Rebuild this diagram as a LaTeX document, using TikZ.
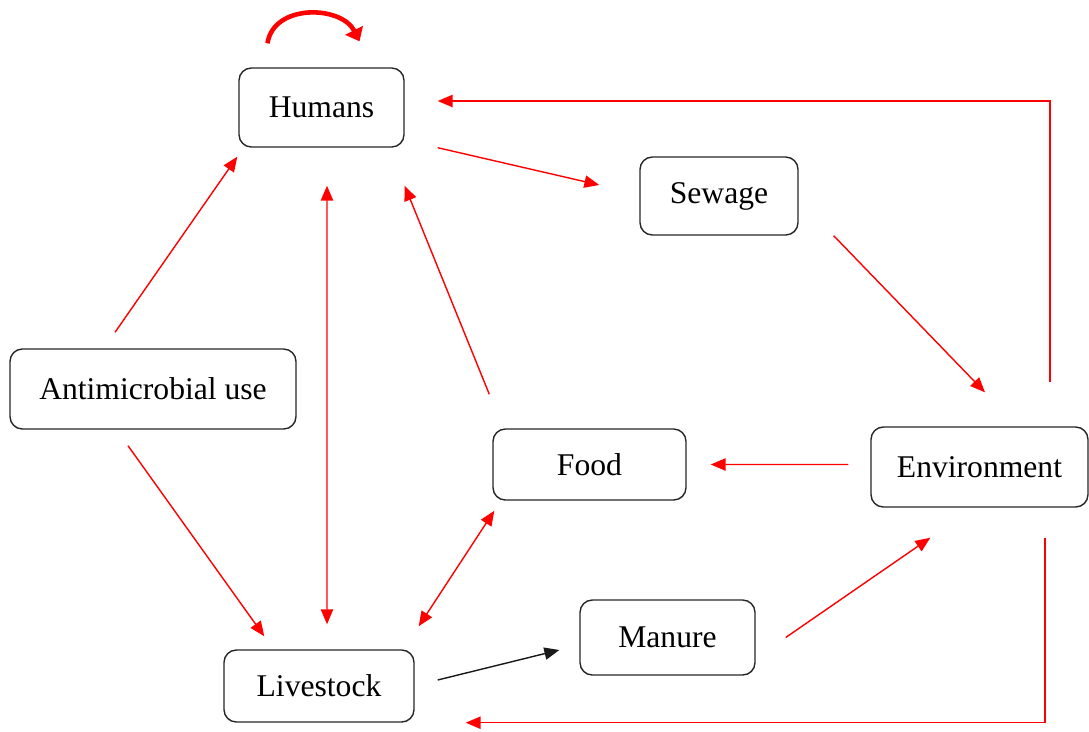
\documentclass[tikz,border=0pt]{standalone}
\usepackage{fontspec}
\setmainfont{Liberation Serif}
\usetikzlibrary{arrows.meta,calc}
\begin{document}
\begin{tikzpicture}[x=0.02cm,y=-0.02cm,
  box/.style={draw=black!85,line width=0.8pt,rounded corners=7pt,inner sep=0pt,
    font=\fontsize{18}{22}\selectfont},
  link/.style={draw=red,line width=0.8pt,-{Triangle[length=8.5pt,width=7pt]}},
  twoway/.style={draw=red,line width=0.8pt,{Triangle[length=8.5pt,width=7pt]}-{Triangle[length=8.5pt,width=7pt]}},
  blacklink/.style={draw=black!90,line width=0.8pt,-{Triangle[length=8.5pt,width=7pt]}}]
\useasboundingbox (0,0) rectangle (1089,731);

% boxes
\node[box,minimum width=3.3cm,minimum height=1.58cm] (hum) at (321.5,107.5) {Humans};
\node[box,minimum width=3.16cm,minimum height=1.56cm] (sew) at (719,196) {Sewage};
\node[box,minimum width=5.72cm,minimum height=1.6cm] (amu) at (153,389) {Antimicrobial use};
\node[box,minimum width=3.86cm,minimum height=1.42cm] (food) at (589.5,464.5) {Food};
\node[box,minimum width=4.34cm,minimum height=1.6cm] (env) at (979.5,467) {Environment};
\node[box,minimum width=3.5cm,minimum height=1.5cm] (man) at (667.5,637.5) {Manure};
\node[box,minimum width=3.8cm,minimum height=1.44cm] (liv) at (319,686) {Livestock};

% connectors
\draw[link] ($(amu.north)+(-38,-16)$) -- ($(hum.south west)+(-1,9)$);
\draw[link] ($(amu.south)+(-25,16)$) -- ($(liv.north west)+(41,-13)$);
\draw[twoway] ($(hum.south)+(5.5,38)$) -- ($(liv.north)+(8,-25)$);
\draw[link] ($(food.north west)+(-3,-34)$) -- ($(hum.south east)+(0,38)$);
\draw[twoway] ($(food.south west)+(2,10)$) -- ($(liv.north east)+(4,-23)$);
\draw[link] ($(hum.south east)+(33,0)$) -- ($(sew.west)+(-40,-11)$);
\draw[link] ($(sew.south east)+(35,0)$) -- ($(env.north)+(5.5,-34)$);
\draw[link] ($(env.west)+(-22,-2.5)$) -- ($(food.east)+(24,0)$);
\draw[link] ($(env.north)+(70.5,-44)$) |- ($(hum.east)+(33,-6.5)$);
\draw[link] ($(env.south)+(65.5,30)$) |- ($(liv.south east)+(51,0)$);
\draw[link] ($(man.east)+(30,0)$) -- ($(env.south west)+(60,30)$);
\draw[blacklink] ($(liv.east)+(23,-6)$) -- ($(man.west)+(-20,12.5)$);

% self-loop above Humans
\draw[red,line width=2.6pt,-{Triangle[length=7pt,width=11pt]}]
  ($(hum.north)+(-54,-24)$) .. controls ($(hum.north)+(-48,-64)$) and ($(hum.north)+(20,-62)$) .. ($(hum.north)+(38,-26)$);
\end{tikzpicture}
\end{document}
